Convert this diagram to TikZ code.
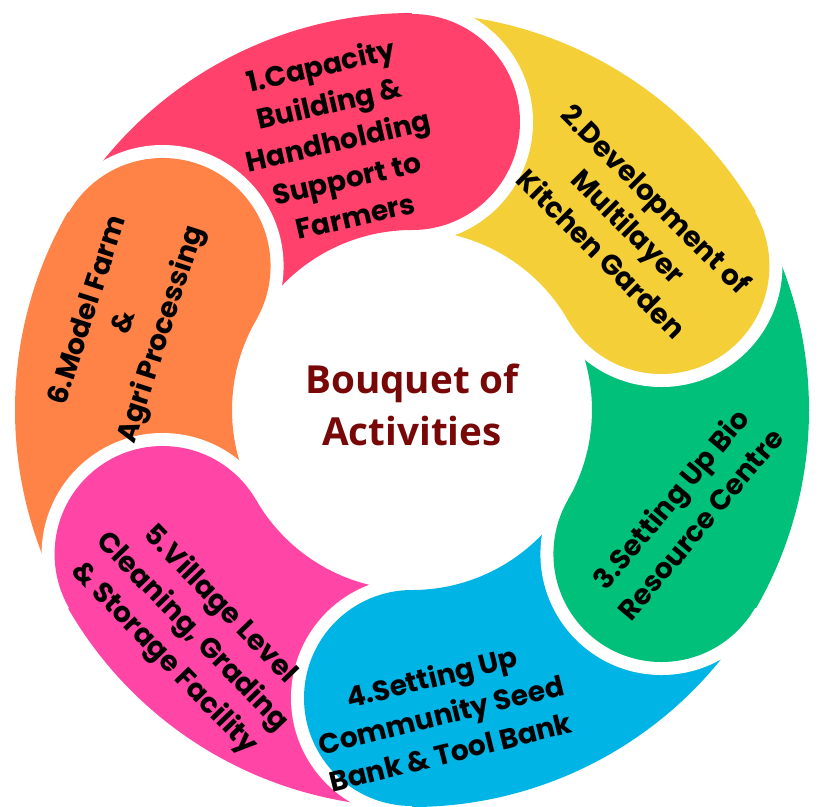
\documentclass[tikz,border=0pt]{standalone}
\usepackage{fontspec}
\setmainfont{Poppins}
\newfontfamily\centrefont{Open Sans}
\usepackage{tikz}

\definecolor{segpink}{RGB}{255,65,108}
\definecolor{segyellow}{RGB}{244,207,55}
\definecolor{seggreen}{RGB}{0,192,122}
\definecolor{segblue}{RGB}{0,180,230}
\definecolor{segmagenta}{RGB}{255,69,166}
\definecolor{segorange}{RGB}{255,131,70}
\definecolor{centrered}{RGB}{120,8,8}

\tikzset{
  segtext/.style={font=\bfseries\fontsize{16}{22}\selectfont, align=center, text=black, inner sep=0pt},
  centretext/.style={font=\centrefont\bfseries\fontsize{22}{30}\selectfont, align=center, text=centrered, inner sep=0pt}
}

\begin{document}
\begin{tikzpicture}[x=0.02cm, y=0.02cm]
            \useasboundingbox (-412,-396) rectangle (408,410);

            \fill[segpink] (150:397) arc[start angle=150, end angle=90, radius=397] -- (90:180) arc[start angle=90, end angle=150, radius=180] -- cycle;
            \fill[segyellow] (90:397) arc[start angle=90, end angle=30, radius=397] -- (30:180) arc[start angle=30, end angle=90, radius=180] -- cycle;
            \fill[seggreen] (30:397) arc[start angle=30, end angle=-30, radius=397] -- (-30:180) arc[start angle=-30, end angle=30, radius=180] -- cycle;
            \fill[segblue] (-30:397) arc[start angle=-30, end angle=-90, radius=397] -- (-90:180) arc[start angle=-90, end angle=-30, radius=180] -- cycle;
            \fill[segmagenta] (-90:397) arc[start angle=-90, end angle=-150, radius=397] -- (-150:180) arc[start angle=-150, end angle=-90, radius=180] -- cycle;
            \fill[segorange] (-150:397) arc[start angle=-150, end angle=-210, radius=397] -- (150:180) arc[start angle=150, end angle=210, radius=180] -- cycle;

            \begin{scope}
              \clip (0,0) -- (90:450) arc[start angle=90, end angle=30, radius=450] -- cycle;
              \fill[white] (90:288) circle[radius=121];
            \end{scope}
            \fill[segpink] (90:288) circle[radius=108];

            \begin{scope}
              \clip (0,0) -- (30:450) arc[start angle=30, end angle=-30, radius=450] -- cycle;
              \fill[white] (30:288) circle[radius=121];
            \end{scope}
            \fill[segyellow] (30:288) circle[radius=108];

            \begin{scope}
              \clip (0,0) -- (-30:450) arc[start angle=-30, end angle=-90, radius=450] -- cycle;
              \fill[white] (-30:288) circle[radius=121];
            \end{scope}
            \fill[seggreen] (-30:288) circle[radius=108];

            \begin{scope}
              \clip (0,0) -- (-90:450) arc[start angle=-90, end angle=-150, radius=450] -- cycle;
              \fill[white] (-90:288) circle[radius=121];
            \end{scope}
            \fill[segblue] (-90:288) circle[radius=108];

            \begin{scope}
              \clip (0,0) -- (-150:450) arc[start angle=-150, end angle=-210, radius=450] -- cycle;
              \fill[white] (-150:288) circle[radius=121];
            \end{scope}
            \fill[segmagenta] (-150:288) circle[radius=108];

            \begin{scope}
              \clip (0,0) -- (150:450) arc[start angle=150, end angle=90, radius=450] -- cycle;
              \fill[white] (150:288) circle[radius=121];
            \end{scope}
            \fill[segorange] (150:288) circle[radius=108];

            \node[segtext, rotate=13] (act1) at (-74, 270) {1.Capacity\\Building \&\\Handholding\\Support to\\Farmers};
            \node[segtext, rotate=-45] (act2) at (217, 184) {2.Development of\\Multilayer\\Kitchen Garden};
            \node[segtext, rotate=50] (act3) at (273, -101) {3.Setting Up Bio\\Resource Centre};
            \node[segtext, rotate=14] (act4) at (29, -304) {4.Setting Up\\Community Seed\\Bank \& Tool Bank};
            \node[segtext, rotate=-46] (act5) at (-220, -222) {5.Village Level\\Cleaning, Grading\\\& Storage Facility};
            \node[segtext, rotate=72] (act6) at (-286, 87) {6.Model Farm\\\&\\Agri Processing};

            \node[centretext] (bouquet) at (0, 5) {Bouquet of\\Activities};
        \end{tikzpicture}
\end{document}
